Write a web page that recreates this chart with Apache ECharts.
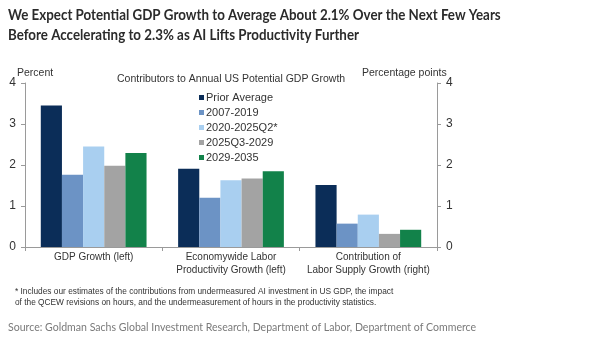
<!DOCTYPE html>
<html>
<head>
<meta charset="utf-8">
<script src="https://cdn.jsdelivr.net/npm/echarts@6/dist/echarts.min.js"></script>
<style>
  html, body { margin: 0; padding: 0; background: #fff; }
  #chart { width: 601px; height: 348px; }
</style>
</head>
<body>
<div id="chart"></div>
<script>
// Categories along the x axis
const categories = [
  'GDP Growth (left)',
  'Economywide Labor\nProductivity Growth (left)',
  'Contribution of\nLabor Supply Growth (right)'
];

// Period series (percent / percentage points)
const priorAverage = [3.45, 1.91, 1.51];
const p2007to2019 = [1.76, 1.20, 0.57];
const p2020to2025Q2 = [2.45, 1.63, 0.79];
const p2025Q3to2029 = [1.98, 1.67, 0.32];
const p2029to2035 = [2.29, 1.85, 0.42];

const seriesNames = ['Prior Average', '2007-2019', '2020-2025Q2*', '2025Q3-2029', '2029-2035'];
const seriesColors = ['#0b2d58', '#6c93c5', '#a9cff0', '#a3a3a3', '#12824a'];
const seriesValues = [priorAverage, p2007to2019, p2020to2025Q2, p2025Q3to2029, p2029to2035];

const yTicks = [0, 1, 2, 3, 4];

const chart = echarts.init(document.getElementById('chart'), null, { renderer: 'canvas' });

const sans = '"Liberation Sans", Arial, sans-serif';
const axisFont = { fontFamily: sans, fontSize: 11, color: '#333' };

chart.setOption({
  animation: false,
  backgroundColor: '#fff',
  grid: { left: 25, right: 164, top: 83, bottom: 101, containLabel: false },
  legend: {
    orient: 'vertical',
    left: 194,
    top: 87,
    itemWidth: 5,
    itemHeight: 5,
    itemGap: 4,
    icon: 'rect',
    data: seriesNames,
    textStyle: Object.assign({}, axisFont, { fontSize: 11, padding: [0, 0, 0, -3] })
  },
  xAxis: {
    type: 'category',
    data: categories,
    axisLine: { lineStyle: { color: '#9a9a9a' } },
    axisTick: { show: true, length: 4, lineStyle: { color: '#9a9a9a' } },
    axisLabel: Object.assign({}, axisFont, { fontSize: 10, margin: 4, lineHeight: 12.5, interval: 0 })
  },
  yAxis: [
    {
      type: 'value', min: yTicks[0], max: yTicks[yTicks.length - 1], interval: 1,
      position: 'left',
      axisLine: { show: true, lineStyle: { color: '#9a9a9a' } },
      axisTick: { show: true, length: 4, lineStyle: { color: '#9a9a9a' } },
      splitLine: { show: false },
      axisLabel: Object.assign({}, axisFont, { fontSize: 12, margin: 9 })
    },
    {
      type: 'value', min: yTicks[0], max: yTicks[yTicks.length - 1], interval: 1,
      position: 'right',
      axisLine: { show: true, lineStyle: { color: '#9a9a9a' } },
      axisTick: { show: true, length: 4, lineStyle: { color: '#9a9a9a' } },
      splitLine: { show: false },
      axisLabel: Object.assign({}, axisFont, { fontSize: 12, margin: 9 })
    }
  ],
  series: seriesNames.map((name, i) => ({
    name: name,
    type: 'bar',
    data: seriesValues[i],
    yAxisIndex: 0,
    barGap: '0%',
    barCategoryGap: '23%',
    itemStyle: { color: seriesColors[i] }
  })),
  graphic: [
    {
      type: 'text', left: 8, top: 5, scaleX: 0.89,
      style: {
        text: 'We Expect Potential GDP Growth to Average About 2.1% Over the Next Few Years\nBefore Accelerating to 2.3% as AI Lifts Productivity Further',
        font: 'bold 15px Lato, sans-serif', fill: '#2b2b2b', lineHeight: 20
      }
    },
    {
      type: 'text', left: 17, top: 68,
      style: { text: 'Percent', font: '10.5px ' + sans, fill: '#333' }
    },
    {
      type: 'text', left: 117, top: 74,
      style: { text: 'Contributors to Annual US Potential GDP Growth', font: '10.5px ' + sans, fill: '#333' }
    },
    {
      type: 'text', left: 362, top: 68,
      style: { text: 'Percentage points', font: '10.5px ' + sans, fill: '#333' }
    },
    {
      type: 'text', left: 15, top: 286, scaleX: 0.875,
      style: {
        text: '* Includes our estimates of the contributions from undermeasured AI investment in US GDP, the impact\nof the QCEW revisions on hours, and the undermeasurement of hours in the productivity statistics.',
        font: '9.5px ' + sans, fill: '#333', lineHeight: 11
      }
    },
    {
      type: 'text', left: 8, top: 321, scaleX: 0.88,
      style: {
        text: 'Source: Goldman Sachs Global Investment Research, Department of Labor, Department of Commerce',
        font: '12px Lato, sans-serif', fill: '#7a7a7a'
      }
    }
  ]
});
</script>
</body>
</html>
